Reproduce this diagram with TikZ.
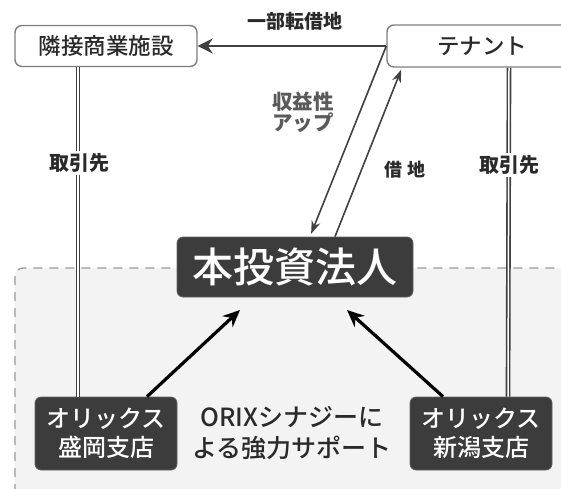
\documentclass[tikz,border=0pt]{standalone}
\usepackage{fontspec}
\newfontfamily\jp{Noto Sans CJK JP}
\newfontfamily\jpm{Noto Sans CJK JP Medium}
\usetikzlibrary{arrows.meta}
\definecolor{boxdark}{HTML}{3C3C3C}
\definecolor{boxline}{HTML}{7E7E7E}
\definecolor{regionfill}{HTML}{F3F3F3}
\definecolor{regionline}{HTML}{999999}
\definecolor{txtdark}{HTML}{2A2A2A}
\definecolor{txtmid}{HTML}{5A5A5A}
\definecolor{linedark}{HTML}{404040}
\tikzset{
  whitebox/.style={draw=boxline, line width=1.4pt, fill=white, rounded corners=7pt, inner sep=0pt, text=txtdark, font=\jpm\fontsize{22.5}{22.5}\selectfont},
  darkbox/.style={draw=boxdark!80, line width=0.8pt, fill=boxdark, rounded corners=6pt, inner sep=0pt, text=white, align=center},
  lbl/.style={text=txtdark, font=\jp\bfseries\fontsize{20}{20}\selectfont, inner sep=2pt},
  lblmid/.style={text=txtmid, font=\jp\bfseries\fontsize{20.5}{21}\selectfont, inner sep=0pt, align=left},
  dline/.style={draw=linedark, line width=1.6pt, double=white, double distance=1.5pt},
  grayarrow/.style={draw=linedark, line width=2pt, -{Stealth[length=15pt,width=15pt]}},
  thinarrow/.style={draw=linedark, line width=1.6pt, -{Stealth[length=13pt,width=9pt]}},
  thickarrow/.style={draw=black, line width=3.2pt, -{Stealth[length=17pt,width=15pt]}},
}
\begin{document}
\begin{tikzpicture}[x=1pt,y=-1pt]
\useasboundingbox (0,0) rectangle (561,488);
\clip (0,0) rectangle (561,488);
% region
\draw[regionline, fill=regionfill, line width=1.3pt, dash pattern=on 9pt off 7pt, rounded corners=8pt] (15,268) rectangle (600,530);
% top boxes
\node[whitebox, minimum width=182pt, minimum height=41pt] (neighbor) at (106,46) {隣接商業施設};
\node[whitebox, minimum width=190pt, minimum height=42pt] (tenant) at (482,46) {テナント};
% central box
\node[darkbox, minimum width=236pt, minimum height=60pt, font=\jpm\fontsize{41}{41}\selectfont] (honbu) at (295,267) {本投資法人};
% bottom boxes
\node[darkbox, minimum width=142pt, minimum height=73pt, font=\jpm\fontsize{24}{29}\selectfont] (morioka) at (106,433.5) {オリックス\\盛岡支店};
\node[darkbox, minimum width=142pt, minimum height=73pt, font=\jpm\fontsize{24}{29}\selectfont] (niigata) at (481,433.5) {オリックス\\新潟支店};
\node[text=txtdark, align=center, font=\jpm\fontsize{25}{31}\selectfont] (synergy) at (292,433) {ORIXシナジーに\\よる強力サポート};
% double lines
\draw[dline] ([xshift=-28pt]neighbor.south) -- ([xshift=-28pt]morioka.north);
\draw[dline] ([xshift=27pt]tenant.south) -- ([xshift=27pt]niigata.north);
\node[lbl, fill=white] (t1) at (79,163) {取引先};
\node[lbl, fill=white] (t2) at (509,165) {取引先};
% top arrow
\draw[grayarrow] (tenant.west) -- (neighbor.east);
\node[lbl, font=\jp\bfseries\fontsize{19}{19}\selectfont] (l1) at (295,21) {一部転借地};
% thin arrows
\draw[thinarrow, shorten >=3pt] (tenant.west) -- ([xshift=15pt]honbu.north);
\draw[thinarrow, shorten >=2pt] ([xshift=40pt]honbu.north) -- ([xshift=-80pt]tenant.south);
\node[lblmid] (l2) at (303,112) {収益性\\アップ};
\node[lbl, font=\jp\bfseries\fontsize{18}{18}\selectfont] (l3) at (405,170) {借 地};
% thick arrows
\coordinate (a1) at (240,310);
\coordinate (a2) at (347,310);
\draw[thickarrow] ([xshift=41pt]morioka.north) -- (a1);
\draw[thickarrow] ([xshift=-38pt]niigata.north) -- (a2);
\end{tikzpicture}
\end{document}
